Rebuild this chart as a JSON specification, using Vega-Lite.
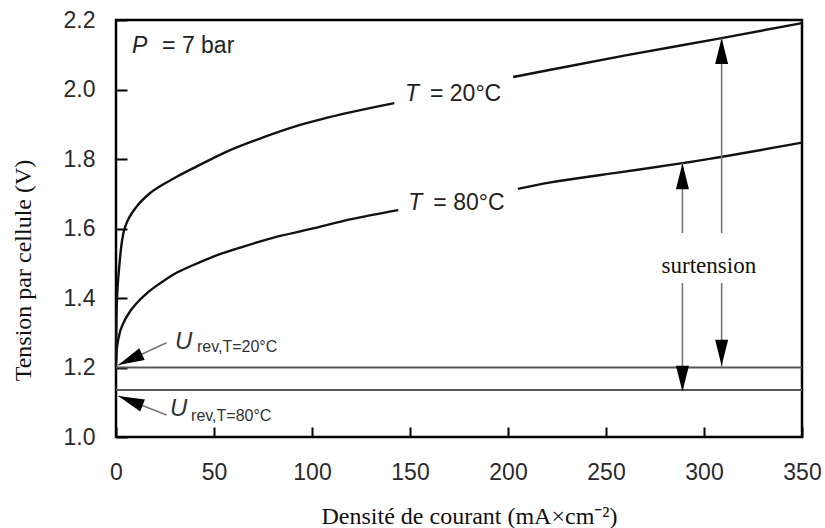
{
  "$schema": "https://vega.github.io/schema/vega-lite/v6.json",
  "width": 686,
  "height": 417,
  "autosize": {"type": "none"},
  "padding": {"left": 116, "top": 20, "right": 23, "bottom": 91},
  "background": "white",
  "config": {
    "view": {"stroke": "#000", "strokeWidth": 2.5},
    "axis": {
      "domain": false,
      "grid": false,
      "ticks": true,
      "tickColor": "#000",
      "tickWidth": 2,
      "labelFont": "Liberation Sans",
      "labelFontSize": 23,
      "labelColor": "#2a2a2a",
      "labelFlush": false,
      "labelOverlap": false,
      "titleFont": "Liberation Serif",
      "titleFontSize": 24,
      "titleFontWeight": "normal",
      "titleColor": "#111"
    }
  },
  "datasets": {
    "curves": [
      {"T": "20", "seg": "20a", "x": 0, "y": 1.22},
      {"T": "20", "seg": "20a", "x": 0.15, "y": 1.31},
      {"T": "20", "seg": "20a", "x": 0.4, "y": 1.38},
      {"T": "20", "seg": "20a", "x": 0.8, "y": 1.43},
      {"T": "20", "seg": "20a", "x": 1.5, "y": 1.48},
      {"T": "20", "seg": "20a", "x": 2.5, "y": 1.54},
      {"T": "20", "seg": "20a", "x": 3.7, "y": 1.585},
      {"T": "20", "seg": "20a", "x": 5, "y": 1.61},
      {"T": "20", "seg": "20a", "x": 7, "y": 1.634},
      {"T": "20", "seg": "20a", "x": 10.5, "y": 1.663},
      {"T": "20", "seg": "20a", "x": 17, "y": 1.7},
      {"T": "20", "seg": "20a", "x": 25, "y": 1.73},
      {"T": "20", "seg": "20a", "x": 31, "y": 1.749},
      {"T": "20", "seg": "20a", "x": 41, "y": 1.778},
      {"T": "20", "seg": "20a", "x": 56, "y": 1.82},
      {"T": "20", "seg": "20a", "x": 75, "y": 1.862},
      {"T": "20", "seg": "20a", "x": 94, "y": 1.898},
      {"T": "20", "seg": "20a", "x": 120, "y": 1.935},
      {"T": "20", "seg": "20a", "x": 142, "y": 1.961},
      {"T": "20", "seg": "20b", "x": 202.6, "y": 2.036},
      {"T": "20", "seg": "20b", "x": 221, "y": 2.056},
      {"T": "20", "seg": "20b", "x": 260, "y": 2.098},
      {"T": "20", "seg": "20b", "x": 309, "y": 2.148},
      {"T": "20", "seg": "20b", "x": 350, "y": 2.191},
      {"T": "80", "seg": "80a", "x": 0, "y": 1.2},
      {"T": "80", "seg": "80a", "x": 0.3, "y": 1.245},
      {"T": "80", "seg": "80a", "x": 1.5, "y": 1.29},
      {"T": "80", "seg": "80a", "x": 3.7, "y": 1.327},
      {"T": "80", "seg": "80a", "x": 7, "y": 1.36},
      {"T": "80", "seg": "80a", "x": 10.5, "y": 1.385},
      {"T": "80", "seg": "80a", "x": 16, "y": 1.415},
      {"T": "80", "seg": "80a", "x": 22.4, "y": 1.442},
      {"T": "80", "seg": "80a", "x": 30, "y": 1.47},
      {"T": "80", "seg": "80a", "x": 39.5, "y": 1.495},
      {"T": "80", "seg": "80a", "x": 50, "y": 1.52},
      {"T": "80", "seg": "80a", "x": 65, "y": 1.548},
      {"T": "80", "seg": "80a", "x": 80, "y": 1.573},
      {"T": "80", "seg": "80a", "x": 99, "y": 1.598},
      {"T": "80", "seg": "80a", "x": 120, "y": 1.627},
      {"T": "80", "seg": "80a", "x": 144, "y": 1.653},
      {"T": "80", "seg": "80b", "x": 205, "y": 1.714},
      {"T": "80", "seg": "80b", "x": 221, "y": 1.732},
      {"T": "80", "seg": "80b", "x": 255, "y": 1.76},
      {"T": "80", "seg": "80b", "x": 289, "y": 1.788},
      {"T": "80", "seg": "80b", "x": 350, "y": 1.847}
    ],
    "urev": [
      {"name": "U_rev, T=20°C", "x": 0, "x2": 350, "y": 1.2},
      {"name": "U_rev, T=80°C", "x": 0, "x2": 350, "y": 1.135}
    ],
    "shafts": [
      {"x": 25.8, "y": 1.271, "x2": 1.2, "y2": 1.207},
      {"x": 25.8, "y": 1.063, "x2": 1.2, "y2": 1.118},
      {"x": 309, "y": 2.148, "x2": 309, "y2": 1.587},
      {"x": 309, "y": 1.443, "x2": 309, "y2": 1.2},
      {"x": 289, "y": 1.788, "x2": 289, "y2": 1.587},
      {"x": 289, "y": 1.443, "x2": 289, "y2": 1.135}
    ],
    "heads": [
      {"x": 1.2, "y": 1.207, "angle": 245.3},
      {"x": 1.2, "y": 1.118, "angle": 291.4},
      {"x": 309, "y": 2.148, "angle": 0},
      {"x": 309, "y": 1.205, "angle": 180},
      {"x": 289, "y": 1.788, "angle": 0},
      {"x": 289, "y": 1.13, "angle": 180}
    ],
    "symbols": [
      {"x": 8.2, "y": 2.105, "text": "P"},
      {"x": 147.4, "y": 1.968, "text": "T"},
      {"x": 149.1, "y": 1.653, "text": "T"}
    ],
    "plain": [
      {"x": 23.5, "y": 2.105, "text": "= 7 bar"},
      {"x": 160.2, "y": 1.968, "text": "= 20°C"},
      {"x": 161.9, "y": 1.653, "text": "= 80°C"}
    ],
    "ulabels": [
      {"x": 30.1, "y": 1.253, "text": "U"},
      {"x": 27.6, "y": 1.06, "text": "U"}
    ],
    "subs": [
      {"x": 41.3, "y": 1.245, "text": "rev,T=20°C"},
      {"x": 38.3, "y": 1.046, "text": "rev,T=80°C"}
    ],
    "notes": [
      {"x": 302.5, "y": 1.472, "text": "surtension"}
    ]
  },
  "encoding": {
    "x": {
      "field": "x",
      "type": "quantitative",
      "scale": {"domain": [0, 350], "nice": false, "zero": false},
      "axis": {
        "title": "Densité de courant (mA×cm⁻²)",
        "values": [0, 50, 100, 150, 200, 250, 300, 350],
        "format": "d",
        "tickSize": -10,
        "labelPadding": 34,
        "titleX": 353,
        "titleY": 86,
        "titleAnchor": null,
        "titleAlign": "center",
        "titleBaseline": "alphabetic"
      }
    },
    "y": {
      "field": "y",
      "type": "quantitative",
      "scale": {"domain": [1.0, 2.2], "nice": false, "zero": false},
      "axis": {
        "title": "Tension par cellule (V)",
        "values": [1.0, 1.2, 1.4, 1.6, 1.8, 2.0, 2.2],
        "format": ".1f",
        "tickSize": -11,
        "labelPadding": 32,
        "titleX": -86,
        "titleY": 250,
        "titleAngle": -90,
        "titleAnchor": null,
        "titleAlign": "center",
        "titleBaseline": "alphabetic"
      }
    }
  },
  "layer": [
    {
      "data": {"name": "curves"},
      "mark": {"type": "line", "stroke": "#111", "strokeWidth": 2.4, "interpolate": "monotone"},
      "encoding": {"detail": {"field": "seg", "type": "nominal"}}
    },
    {
      "data": {"name": "urev"},
      "mark": {"type": "rule", "stroke": "#555", "strokeWidth": 2},
      "encoding": {"x2": {"field": "x2"}}
    },
    {
      "data": {"name": "shafts"},
      "mark": {"type": "rule", "stroke": "#777", "strokeWidth": 1.6},
      "encoding": {"x2": {"field": "x2"}, "y2": {"field": "y2"}}
    },
    {
      "data": {"name": "heads"},
      "mark": {"type": "point", "shape": "M0,0L-0.5,2L0.5,2Z", "filled": true, "size": 676, "color": "#000", "opacity": 1, "strokeWidth": 0},
      "encoding": {"angle": {"field": "angle", "type": "quantitative", "scale": null}}
    },
    {
      "data": {"name": "symbols"},
      "mark": {"type": "text", "font": "Liberation Sans", "fontStyle": "italic", "fontSize": 23, "align": "left", "baseline": "alphabetic", "color": "#222"},
      "encoding": {"text": {"field": "text"}}
    },
    {
      "data": {"name": "plain"},
      "mark": {"type": "text", "font": "Liberation Sans", "fontSize": 23, "align": "left", "baseline": "alphabetic", "color": "#222"},
      "encoding": {"text": {"field": "text"}}
    },
    {
      "data": {"name": "ulabels"},
      "mark": {"type": "text", "font": "Liberation Sans", "fontStyle": "italic", "fontSize": 24, "align": "left", "baseline": "alphabetic", "color": "#333"},
      "encoding": {"text": {"field": "text"}}
    },
    {
      "data": {"name": "subs"},
      "mark": {"type": "text", "font": "Liberation Sans", "fontSize": 16, "align": "left", "baseline": "alphabetic", "color": "#333"},
      "encoding": {"text": {"field": "text"}}
    },
    {
      "data": {"name": "notes"},
      "mark": {"type": "text", "font": "Liberation Serif", "fontSize": 23, "align": "center", "baseline": "alphabetic", "color": "#111"},
      "encoding": {"text": {"field": "text"}}
    }
  ]
}
